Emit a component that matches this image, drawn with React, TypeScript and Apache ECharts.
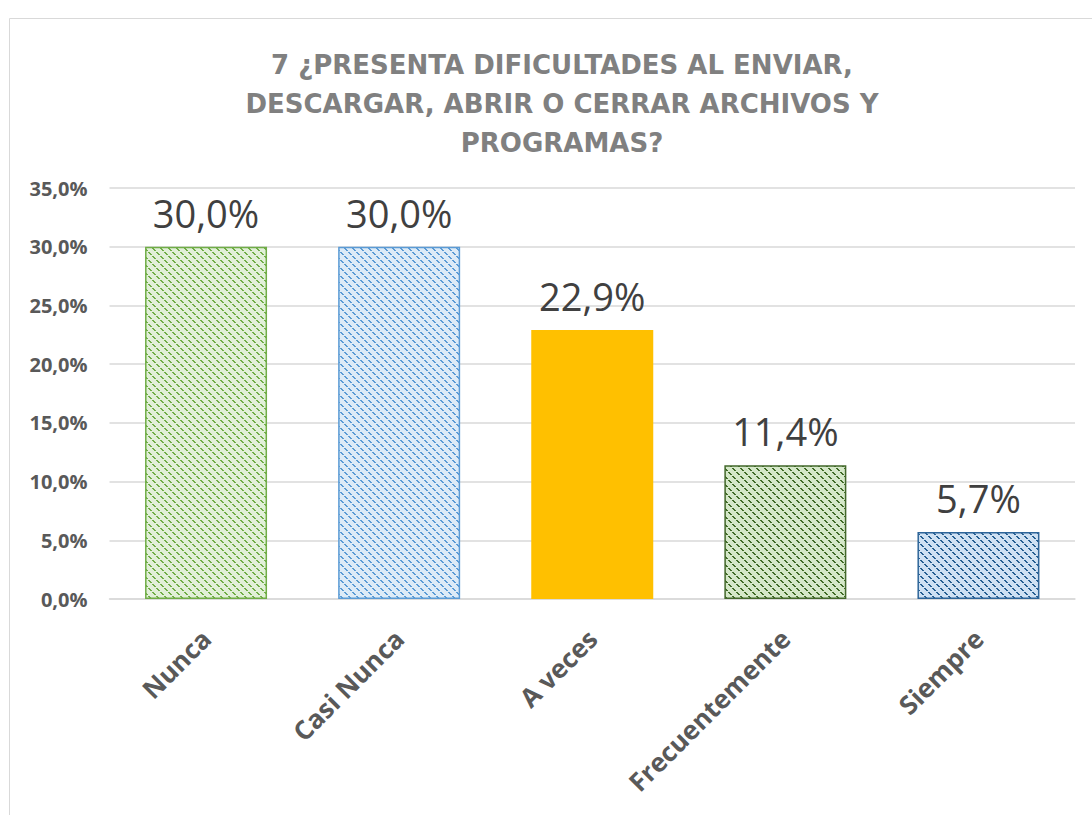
import React, { useEffect, useRef } from "react";
import * as echarts from "echarts";

const categories = ["Nunca", "Casi Nunca", "A veces", "Frecuentemente", "Siempre"];
const values = [30.0, 30.0, 22.9, 11.4, 5.7];
const yTicks = [0, 5, 10, 15, 20, 25, 30, 35];
const titleText = "7 ¿PRESENTA DIFICULTADES AL ENVIAR,\nDESCARGAR, ABRIR O CERRAR ARCHIVOS Y\nPROGRAMAS?";

type BarStyle = { bg: string; fg: string | null; border: string | null };
const barStyles: BarStyle[] = [
  { bg: "#e2f0d9", fg: "#70ad47", border: "#70ad47" },
  { bg: "#ddebf7", fg: "#5b9bd5", border: "#5b9bd5" },
  { bg: "#ffc000", fg: null, border: null },
  { bg: "#d5e8c9", fg: "#3f6a26", border: "#43682b" },
  { bg: "#cfe1f3", fg: "#255e91", border: "#2e6599" },
];

function makePattern(bg: string, fg: string): HTMLCanvasElement {
  const c = document.createElement("canvas");
  c.width = 8;
  c.height = 8;
  const ctx = c.getContext("2d")!;
  ctx.fillStyle = bg;
  ctx.fillRect(0, 0, 8, 8);
  ctx.fillStyle = fg;
  for (let y = 0; y < 8; y++) {
    if (y % 4 === 3) continue;
    const x = y % 8;
    ctx.fillRect(x, y, 2, 1);
  }
  return c;
}

const fmt = (v: number) => v.toFixed(1).replace(".", ",") + "%";

export default function App() {
  const ref = useRef<HTMLDivElement>(null);
  useEffect(() => {
    if (!ref.current) return;
    const chart = echarts.init(ref.current, undefined, { renderer: "svg" });
    const data = values.map((v, i) => {
      const s = barStyles[i];
      return {
        value: v,
        itemStyle: {
          color: s.fg ? { image: makePattern(s.bg, s.fg), repeat: "repeat" } : s.bg,
          borderColor: s.border || s.bg,
          borderWidth: s.border ? 1.5 : 0,
        },
      };
    });
    chart.setOption({
      animation: false,
      backgroundColor: "#ffffff",
      title: {
        text: titleText,
        left: 557,
        top: 40,
        textAlign: "center",
        textStyle: {
          fontFamily: "DejaVu Sans",
          fontWeight: "bold",
          fontSize: 26,
          lineHeight: 39,
          color: "#808080",
        },
      },
      graphic: [
        {
          type: "rect",
          shape: { x: 9.5, y: 18.5, width: 1200, height: 900 },
          style: { fill: "none", stroke: "#d9d9d9", lineWidth: 1 },
          silent: true,
        },
      ],
      grid: { left: 109.5, right: 17, top: 188, bottom: 216, containLabel: false },
      xAxis: {
        type: "category",
        data: categories,
        axisLine: { lineStyle: { color: "#d9d9d9", width: 1.5 } },
        axisTick: { show: false },
        axisLabel: {
          rotate: 45,
          margin: 35,
          fontFamily: "Open Sans",
          fontWeight: "bold",
          fontSize: 26,
          color: "#595959",
          interval: 0,
        },
      },
      yAxis: {
        type: "value",
        min: yTicks[0],
        max: yTicks[yTicks.length - 1],
        interval: 5,
        axisLine: { show: false },
        axisTick: { show: false },
        splitLine: { lineStyle: { color: "#d9d9d9", width: 1.5 } },
        axisLabel: {
          formatter: (v: number) => fmt(v),
          margin: 22,
          fontFamily: "Open Sans",
          fontWeight: "bold",
          fontSize: 20,
          color: "#595959",
        },
      },
      series: [
        {
          type: "bar",
          data,
          barWidth: 122,
          label: {
            show: true,
            position: "top",
            distance: 15,
            formatter: (p: any) => fmt(p.value),
            fontFamily: "Open Sans",
            fontSize: 38,
            color: "#404040",
          },
        },
      ],
    });
    return () => chart.dispose();
  }, []);
  return (
    <div
      ref={ref}
      style={{ position: "absolute", left: 0, top: 0, width: 1092, height: 815 }}
    />
  );
}
